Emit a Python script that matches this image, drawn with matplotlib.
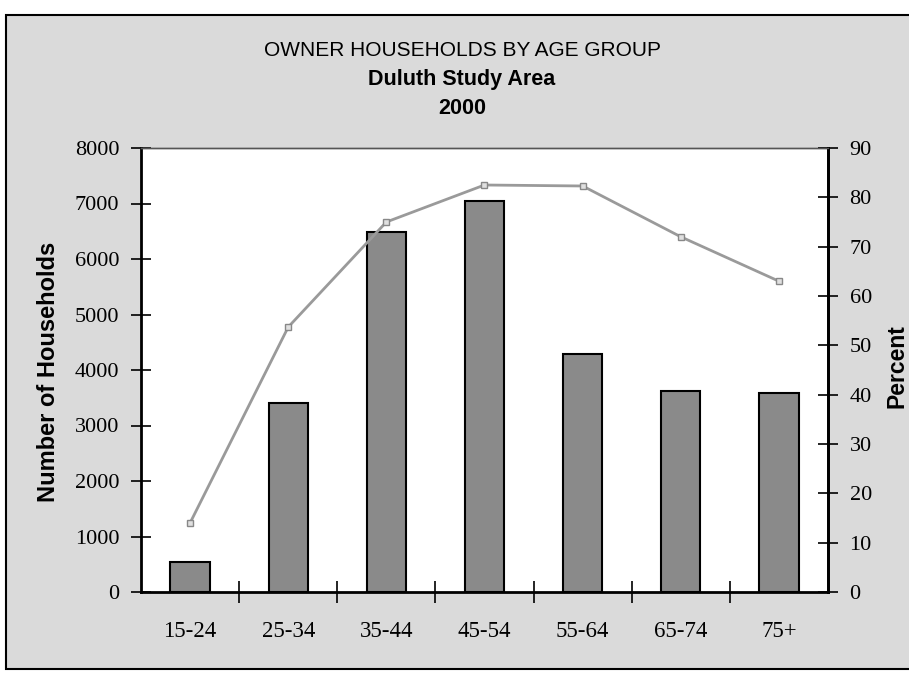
import matplotlib
matplotlib.use("Agg")
import matplotlib.pyplot as plt
from matplotlib.patches import Rectangle
import numpy as np

categories = ["15-24", "25-34", "35-44", "45-54", "55-64", "65-74", "75+"]
households = [540, 3400, 6480, 7040, 4280, 3620, 3580]
percent = [14, 53.7, 75, 82.5, 82.3, 72, 63]
left_ticks = list(range(0, 8001, 1000))
right_ticks = list(range(0, 91, 10))

W, H = 909, 673
fig = plt.figure(figsize=(W / 100, H / 100), dpi=100)
fig.patch.set_facecolor("white")

# chart frame (stippled gray background)
frame = Rectangle((6 / W, 1 - 669 / H), (W + 10 - 6) / W, (669 - 15) / H,
                  transform=fig.transFigure, facecolor="#dadada",
                  edgecolor="black", linewidth=1.5, zorder=-10)
fig.patches.append(frame)

ax = fig.add_axes([141 / W, 1 - 592 / H, (828 - 141) / W, (592 - 148) / H])
ax.set_facecolor("white")
x = np.arange(len(categories))
ax.bar(x, households, width=0.4, color="#8a8a8a", edgecolor="black",
       linewidth=1.5, zorder=3)
ax.set_xlim(-0.5, len(categories) - 0.5)
ax.set_ylim(0, 8000)
ax.set_yticks(left_ticks)
ax.set_yticklabels([str(v) for v in left_ticks], family="Liberation Serif",
                   fontsize=16)
ax.tick_params(axis="y", direction="inout", length=15, width=1.2, pad=8)

# category boundary ticks (major) and centered labels (minor)
ax.set_xticks(np.arange(0.5, len(categories) - 0.5, 1.0))
ax.set_xticklabels([])
ax.tick_params(axis="x", which="major", direction="inout", length=16,
               width=1.2)
ax.set_xticks(x, minor=True)
ax.set_xticklabels(categories, minor=True, family="Liberation Serif",
                   fontsize=16.5)
ax.tick_params(axis="x", which="minor", length=0, pad=21)

for s in ["left", "bottom"]:
    ax.spines[s].set_linewidth(2)
    ax.spines[s].set_color("black")
ax.spines["top"].set_linewidth(1)
ax.spines["top"].set_color("#555555")
ax.spines["right"].set_linewidth(2)

ax2 = ax.twinx()
ax2.plot(x, percent, color="#9a9a9a", linewidth=2.0, marker="s",
         markersize=5, markerfacecolor="#e0e0e0", markeredgecolor="#888888",
         zorder=5)
ax2.set_ylim(0, 90)
ax2.set_yticks(right_ticks)
ax2.set_yticklabels([str(v) for v in right_ticks], family="Liberation Serif",
                    fontsize=16)
ax2.tick_params(axis="y", direction="inout", length=15, width=1.2, pad=8)
ax2.spines["right"].set_linewidth(2)
ax2.spines["top"].set_linewidth(1)
ax2.spines["top"].set_color("#555555")
ax2.spines["left"].set_visible(False)
ax2.spines["bottom"].set_visible(False)

# titles
fig.text(462 / W, 1 - 50 / H, "OWNER HOUSEHOLDS BY AGE GROUP",
         ha="center", va="center", family="Liberation Sans", fontsize=15)
fig.text(462 / W, 1 - 79 / H, "Duluth Study Area", ha="center",
         va="center", family="Liberation Sans", fontsize=15.5,
         fontweight="bold")
fig.text(462 / W, 1 - 108 / H, "2000", ha="center", va="center",
         family="Liberation Sans", fontsize=15.5, fontweight="bold")

# axis labels
fig.text(49 / W, 1 - 372 / H, "Number of Households", rotation=90,
         ha="center", va="center", family="Liberation Sans", fontsize=17,
         fontweight="bold")
fig.text(897 / W, 1 - 366 / H, "Percent", rotation=90, ha="center",
         va="center", family="Liberation Sans", fontsize=16.5,
         fontweight="bold")

fig.savefig("out.png", dpi=100)
